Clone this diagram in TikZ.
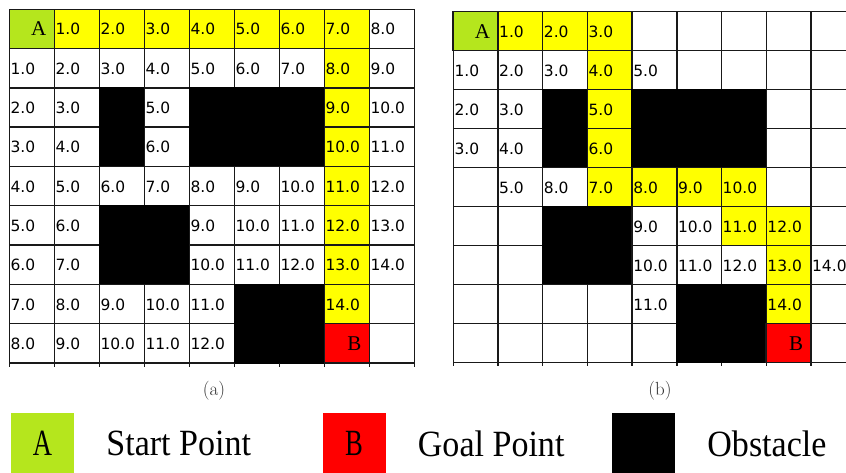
\documentclass[tikz,border=0pt]{standalone}
\usepackage{fontspec}
\usetikzlibrary{positioning}
\newfontfamily\cellfont{DejaVu Sans}
\newfontfamily\markfont{Liberation Serif}
\newfontfamily\legendfont[FakeStretch=0.92]{Liberation Serif}
\newfontfamily\legendletter[FakeStretch=0.72]{Liberation Serif}

\definecolor{startgreen}{RGB}{181,230,29}
\definecolor{pathyellow}{RGB}{255,255,0}
\definecolor{goalred}{RGB}{255,0,0}

\tikzset{
  cell/.style={draw=black!90, line width=1.4pt, fill=white,
    minimum width=45pt, minimum height=39.3pt,
    inner xsep=1.2pt, inner ysep=0pt, text width=42.6pt, align=left,
    text height=12pt, text depth=0pt,
    font=\cellfont\fontsize{15.5}{15.5}\selectfont},
  free/.style={},
  trail/.style={fill=pathyellow},
  wall/.style={fill=black, draw=black},
  start/.style={fill=startgreen, inner xsep=8pt, text width=29pt, align=right,
    text height=14pt, font=\markfont\fontsize{21}{21}\selectfont},
  goal/.style={fill=goalred, inner xsep=8pt, text width=29pt, align=right,
    text height=14pt, font=\markfont\fontsize{21}{21}\selectfont},
  gridline/.style={draw=black!90, line width=1.4pt},
  legbox/.style={minimum width=63pt, minimum height=61pt, inner sep=0pt,
    font=\legendletter\fontsize{37}{37}\selectfont},
  legtext/.style={inner sep=0pt, font=\legendfont\fontsize{37}{37}\selectfont},
  caption/.style={text=black!80, font=\fontsize{19}{19}\selectfont}
}

\begin{document}
\begin{tikzpicture}[x=1pt,y=-1pt]
\clip (0,0) rectangle (846,473);

% (a) grid
\foreach \row [count=\r] in {
  {start/A, trail/1.0, trail/2.0, trail/3.0, trail/4.0, trail/5.0, trail/6.0, trail/7.0, free/8.0},
  {free/1.0, free/2.0, free/3.0, free/4.0, free/5.0, free/6.0, free/7.0, trail/8.0, free/9.0},
  {free/2.0, free/3.0, wall/, free/5.0, wall/, wall/, wall/, trail/9.0, free/10.0},
  {free/3.0, free/4.0, wall/, free/6.0, wall/, wall/, wall/, trail/10.0, free/11.0},
  {free/4.0, free/5.0, free/6.0, free/7.0, free/8.0, free/9.0, free/10.0, trail/11.0, free/12.0},
  {free/5.0, free/6.0, wall/, wall/, free/9.0, free/10.0, free/11.0, trail/12.0, free/13.0},
  {free/6.0, free/7.0, wall/, wall/, free/10.0, free/11.0, free/12.0, trail/13.0, free/14.0},
  {free/7.0, free/8.0, free/9.0, free/10.0, free/11.0, wall/, wall/, trail/14.0, free/},
  {free/8.0, free/9.0, free/10.0, free/11.0, free/12.0, wall/, wall/, goal/B, free/}} {
  \foreach \k/\v [count=\c] in \row
    \node[cell, \k] (a-\r-\c) at ({9.3+45*(\c-0.5)}, {9.3+39.3*(\r-0.5)}) {\v};
}
\foreach \c in {0,...,9}
  \draw[gridline] ({9.3+45*\c}, 363) -- ++(0,3.5);

% (b) grid
\begin{scope}[cell/.append style={minimum width=44.7pt, minimum height=39pt, text width=42.3pt}]
\foreach \row [count=\r] in {
  {start/A, trail/1.0, trail/2.0, trail/3.0, free/, free/, free/, free/, free/},
  {free/1.0, free/2.0, free/3.0, trail/4.0, free/5.0, free/, free/, free/, free/},
  {free/2.0, free/3.0, wall/, trail/5.0, wall/, wall/, wall/, free/, free/},
  {free/3.0, free/4.0, wall/, trail/6.0, wall/, wall/, wall/, free/, free/},
  {free/, free/5.0, free/8.0, trail/7.0, trail/8.0, trail/9.0, trail/10.0, free/, free/},
  {free/, free/, wall/, wall/, free/9.0, free/10.0, trail/11.0, trail/12.0, free/},
  {free/, free/, wall/, wall/, free/10.0, free/11.0, free/12.0, trail/13.0, free/14.0},
  {free/, free/, free/, free/, free/11.0, wall/, wall/, trail/14.0, free/},
  {free/, free/, free/, free/, free/, wall/, wall/, goal/B, free/}} {
  \foreach \k/\v [count=\c] in \row
    \node[cell, \k] (b-\r-\c) at ({453.3+44.7*(\c-0.5)}, {11.7+39*(\r-0.5)}) {\v};
}
\end{scope}
\foreach \c in {0,...,8}
  \draw[gridline] ({453.3+44.7*\c}, 362.7) -- ++(0,3.5);

% captions
\node[caption] (capa) at (214,391) {(a)};
\node[caption] (capb) at (660,391) {(b)};

% legend
\node[legbox, fill=startgreen] (legA) at (42.5,443.5) {A};
\node[legtext, right=32pt of legA] (legAtext) {Start Point};
\node[legbox, fill=goalred] (legB) at (354,443.5) {B};
\node[legtext, right=32pt of legB] (legBtext) {Goal Point};
\node[legbox, fill=black] (legC) at (643.5,443.5) {};
\node[legtext, right=32pt of legC] (legCtext) {Obstacle};
\end{tikzpicture}
\end{document}
